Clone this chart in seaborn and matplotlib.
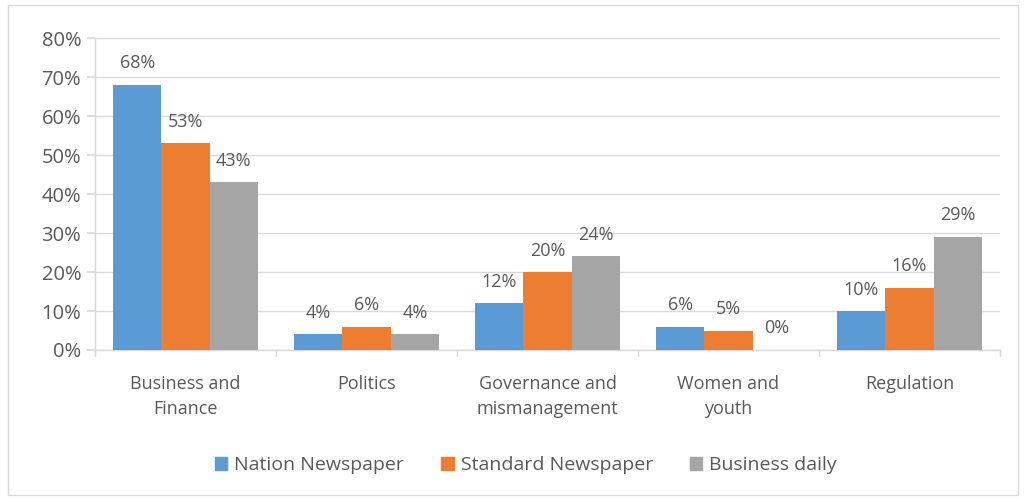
import matplotlib
matplotlib.use("Agg")
import matplotlib.pyplot as plt
import matplotlib.patches as mpatches
import seaborn as sns
import pandas as pd
from matplotlib.ticker import MultipleLocator, FuncFormatter

categories = ["Business and\nFinance", "Politics", "Governance and\nmismanagement",
              "Women and\nyouth", "Regulation"]
series = ["Nation Newspaper", "Standard Newspaper", "Business daily"]
nation = [68, 4, 12, 6, 10]
standard = [53, 6, 20, 5, 16]
business_daily = [43, 4, 24, 0, 29]
colors = ["#5B9BD5", "#ED7D31", "#A5A5A5"]

rows = []
for name, vals in zip(series, [nation, standard, business_daily]):
    for cat, v in zip(categories, vals):
        rows.append({"category": cat, "series": name, "value": v})
df = pd.DataFrame(rows)

sns.set_theme(style="white")
plt.rcParams["font.family"] = ["Open Sans", "DejaVu Sans"]
text_color = "#595959"

fig = plt.figure(figsize=(10.25, 4.99), dpi=100)
ax = fig.add_axes([0.0927, 0.2986, 0.8829, 0.6252])

sns.barplot(data=df, x="category", y="value", hue="series", hue_order=series,
            palette=colors, width=0.8, gap=0, saturation=1, ax=ax,
            errorbar=None, legend=False, zorder=3, linewidth=0)

ax.set_ylim(0, 80)
ax.set_xlim(-0.5, len(categories) - 0.5)
ax.yaxis.set_major_locator(MultipleLocator(10))
ax.yaxis.set_major_formatter(FuncFormatter(lambda v, p: f"{int(v)}%"))
ax.grid(axis="y", color="#D9D9D9", linewidth=1, zorder=0)
ax.set_axisbelow(True)

for side in ["top", "right"]:
    ax.spines[side].set_visible(False)
for side in ["left", "bottom"]:
    ax.spines[side].set_color("#D9D9D9")
    ax.spines[side].set_linewidth(1)

ax.tick_params(axis="y", labelsize=14.5, colors=text_color, length=6,
               color="#D9D9D9", pad=4, left=True)
ax.tick_params(axis="x", labelsize=13, colors=text_color, length=0, pad=18)
for lab in ax.get_xticklabels():
    lab.set_linespacing(1.5)
ax.set_xlabel("")
ax.set_ylabel("")

# small ticks between category groups
for b in range(len(categories) + 1):
    ax.plot([b - 0.5, b - 0.5], [0, -1.5], color="#D9D9D9", lw=1,
            clip_on=False, zorder=2)

for container in ax.containers:
    ax.bar_label(container, labels=[f"{int(v)}%" for v in container.datavalues],
                 padding=9, fontsize=13, color=text_color)

handles = [mpatches.Patch(color=c, label=s) for c, s in zip(colors, series)]
fig.legend(handles=handles, loc="center", bbox_to_anchor=(0.513, 0.068), ncol=3,
           frameon=False, fontsize=14, labelcolor=text_color,
           handlelength=0.65, handleheight=0.65, handletextpad=0.35,
           columnspacing=1.9)

# chart border
fig.patches.append(mpatches.Rectangle((0.008, 0.008), 0.985, 0.982,
                                      transform=fig.transFigure, fill=False,
                                      edgecolor="#D9D9D9", linewidth=1))

fig.savefig("out.png", dpi=100, facecolor="white")
